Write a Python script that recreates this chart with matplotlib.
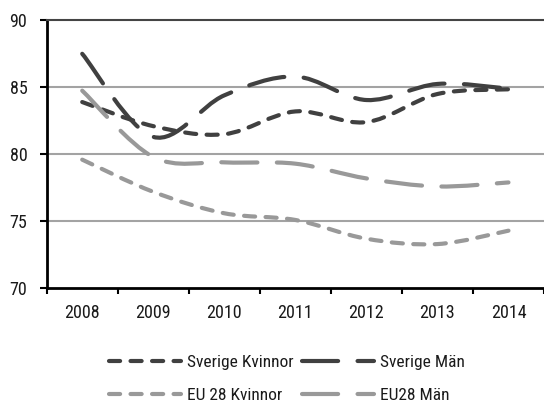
import matplotlib
matplotlib.use("Agg")
import matplotlib.pyplot as plt
from matplotlib import font_manager
from matplotlib.path import Path
from matplotlib.patches import PathPatch
from matplotlib.lines import Line2D
import numpy as np

years = ['2008', '2009', '2010', '2011', '2012', '2013', '2014']
sverige_kvinnor = [83.9, 82.1, 81.5, 83.2, 82.4, 84.5, 84.85]
sverige_man = [87.5, 81.3, 84.4, 85.8, 84.05, 85.25, 84.9]
eu28_kvinnor = [79.6, 77.2, 75.6, 75.1, 73.7, 73.3, 74.3]
eu28_man = [84.75, 79.8, 79.4, 79.3, 78.2, 77.6, 77.9]
labels = ['Sverige Kvinnor', 'Sverige Män', 'EU 28 Kvinnor', 'EU28 Män']
y_ticks = [70, 75, 80, 85, 90]

# pick a condensed font family if one is installed
available = {f.name for f in font_manager.fontManager.ttflist}
family = None
for pref in ['Liberation Sans Narrow', 'Roboto Condensed', 'Open Sans Condensed',
             'Noto Sans Condensed', 'Arial Narrow']:
    if pref in available:
        family = pref
        break
if family is None:
    family = 'Liberation Sans'
FP = font_manager.FontProperties(family=[family, 'DejaVu Sans'], style='normal',
                                 weight='normal', stretch='condensed')

plt.rcParams['lines.scale_dashes'] = False

DARK = '#404040'
LIGHT = '#999999'
TEXT = '#1a1a1a'
SHORT = (0, (8.0, 7.5))
LONG = (0, (26.0, 14.0))
LW = 3.0
FS = 13
LFS = 12.5

series = [
    (sverige_kvinnor, DARK, SHORT),
    (sverige_man, DARK, LONG),
    (eu28_kvinnor, LIGHT, SHORT),
    (eu28_man, LIGHT, LONG),
]

fig = plt.figure(figsize=(5.44, 4.05), dpi=100)
ax = fig.add_axes([46.7 / 544, 1 - 288.3 / 405, 1 - 46.7 / 544, (288.3 - 20.3) / 405])


def smooth_path(xs, ys):
    pts = np.column_stack([xs, ys])
    n = len(pts)
    verts = [pts[0]]
    codes = [Path.MOVETO]
    for i in range(n - 1):
        p0 = pts[max(i - 1, 0)]
        p1 = pts[i]
        p2 = pts[i + 1]
        p3 = pts[min(i + 2, n - 1)]
        c1 = p1 + (p2 - p0) / 6.0
        c2 = p2 - (p3 - p1) / 6.0
        verts += [c1, c2, p2]
        codes += [Path.CURVE4] * 3
    return Path(verts, codes)


xs = np.arange(len(years)) + 0.5
handles = []
for (vals, col, ls), lab in zip(series, labels):
    patch = PathPatch(smooth_path(xs, vals), fill=False, edgecolor=col,
                      linewidth=LW, linestyle=ls, capstyle='round',
                      joinstyle='round', zorder=3)
    ax.add_patch(patch)
    handles.append(Line2D([], [], color=col, linewidth=LW, linestyle=ls,
                          dash_capstyle='round', solid_capstyle='round'))

ax.set_xlim(0, len(years))
ax.set_ylim(70, 90)
ax.set_yticks(y_ticks)
ax.set_yticklabels([str(t) for t in y_ticks])
ax.set_xticks(np.arange(len(years) + 1))
ax.set_xticklabels([])
ax.set_xticks(xs, minor=True)
ax.set_xticklabels(years, minor=True)
for t in ax.get_xticklabels(minor=True) + ax.get_yticklabels():
    t.set_fontproperties(FP)
    t.set_fontsize(FS)
    t.set_color(TEXT)

ax.tick_params(axis='x', which='major', length=4, width=1.5, color='black', direction='out')
ax.tick_params(axis='x', which='minor', length=0, pad=11)
ax.tick_params(axis='y', which='major', length=5, width=1.5, color='black', direction='out', pad=9)

for y in y_ticks[1:-1]:
    ax.axhline(y, color='#a3a3a3', linewidth=1.5, zorder=1)

ax.spines['left'].set_linewidth(2)
ax.spines['bottom'].set_linewidth(2)
ax.spines['left'].set_color('black')
ax.spines['bottom'].set_color('black')
ax.spines['top'].set_color('#444444')
ax.spines['top'].set_linewidth(1.5)
ax.spines['right'].set_visible(False)

order = [0, 2, 1, 3]
lp = FP.copy()
lp.set_size(LFS)
fig.legend([handles[i] for i in order], [labels[i] for i in order], ncol=2, loc='center',
           bbox_to_anchor=(287 / 544, 1 - 379 / 405), prop=lp,
           frameon=False, handlelength=4.15, handletextpad=0.35,
           columnspacing=0.45, labelspacing=1.05, labelcolor=TEXT)

fig.savefig('out.png', dpi=100)
